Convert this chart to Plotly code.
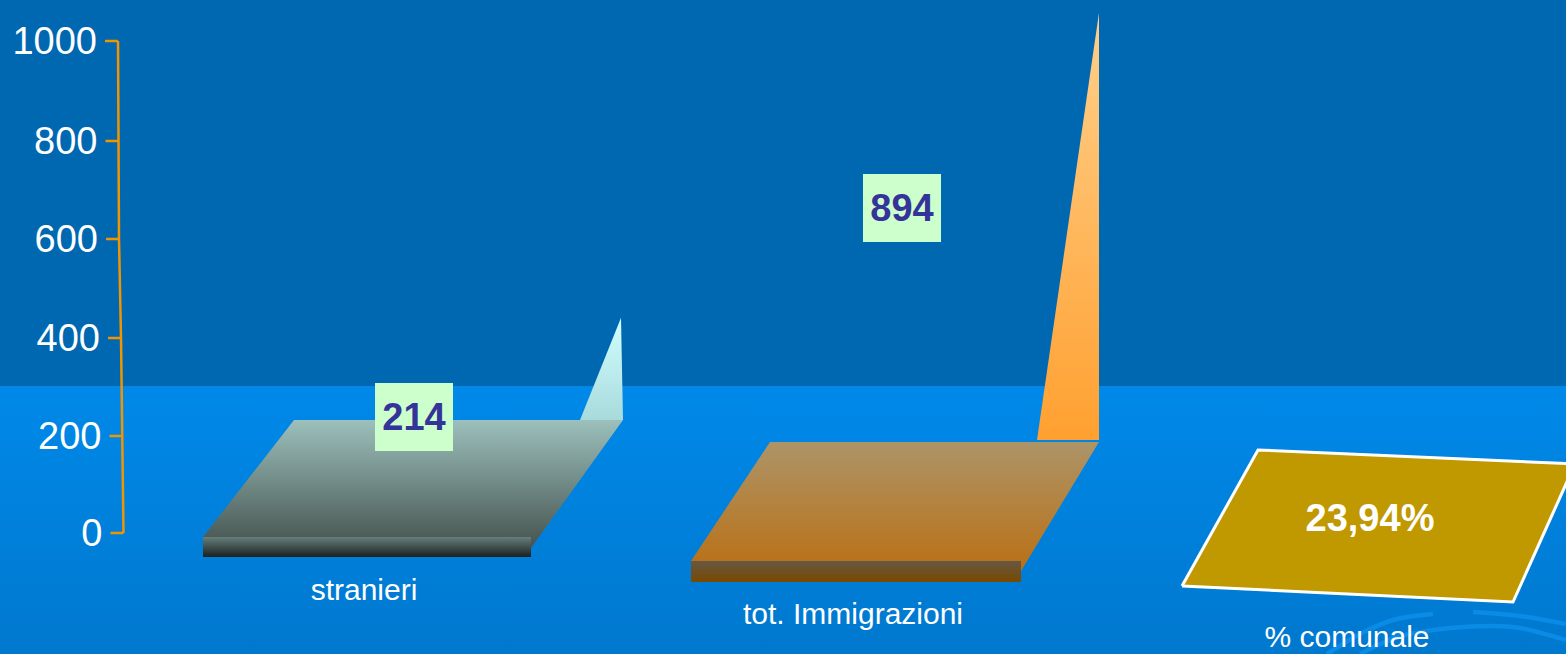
import plotly.graph_objects as go

# ---- data ----
categories = ["stranieri", "tot. Immigrazioni", "% comunale"]
values = [214, 894]
value_labels = ["214", "894"]
percent_label = "23,94%"
tick_values = [0, 200, 400, 600, 800, 1000]
tick_labels = ["0", "200", "400", "600", "800", "1000"]

W, H = 1566, 654
Y0_PX, PX_PER_UNIT = 533.0, 0.492       # value axis: value 0 and its scale
DEPTH_SCALE = 0.478                     # rear wall is slightly foreshortened


def yv(py):
    """page pixel row -> value on the y axis"""
    return (Y0_PX - py) / PX_PER_UNIT


def poly(pts, bottom=None, top=None, color=None, line=None, name=""):
    xs = [p[0] for p in pts] + [pts[0][0]]
    ys = [yv(p[1]) for p in pts] + [yv(pts[0][1])]
    kw = dict(x=xs, y=ys, fill="toself", hoverinfo="skip", showlegend=False, name=name)
    if line:
        kw.update(mode="lines", line=line)
    else:
        kw.update(mode="none")
    if color:
        kw["fillcolor"] = color
    else:
        kw["fillgradient"] = dict(type="vertical", colorscale=[[0, bottom], [1, top]])
    return go.Scatter(**kw)


def spike(x_left, x_tip, x_right, base_py, value, bottom, top):
    base = yv(base_py)
    tip = base + value * DEPTH_SCALE / PX_PER_UNIT
    return go.Scatter(
        x=[x_left, x_tip, x_right, x_left], y=[base, tip, base, base],
        mode="none", fill="toself", hoverinfo="skip", showlegend=False,
        fillgradient=dict(type="vertical", colorscale=[[0, bottom], [1, top]]),
    )


fig = go.Figure()

# backdrop
fig.add_trace(poly([(0, 0), (W, 0), (W, 386), (0, 386)], color="#0067B1"))
fig.add_trace(poly([(0, 386), (W, 386), (W, H), (0, H)], bottom="#0078CE", top="#0089E9"))

# swooshes in the backdrop
for pts in (
    [(1327, 654), (1360, 634), (1393, 620), (1433, 614)],
    [(1473, 612), (1520, 616), (1566, 624)],
    [(1360, 654), (1395, 638), (1433, 630), (1493, 626), (1520, 628), (1566, 640)],
):
    fig.add_trace(go.Scatter(
        x=[p[0] for p in pts], y=[yv(p[1]) for p in pts], mode="lines",
        line=dict(color="#0A8BE6", width=4.5, shape="spline"),
        hoverinfo="skip", showlegend=False))

# value axis
axis_x = [123.5, 122.5, 121, 119, 118.5, 118]
axis_py = [533, 436, 338, 239, 141, 41]
fig.add_trace(go.Scatter(
    x=axis_x, y=[yv(p) for p in axis_py], mode="lines",
    line=dict(color="#F09400", width=2.5), hoverinfo="skip", showlegend=False))
for ax, py in zip(axis_x, axis_py):
    fig.add_trace(go.Scatter(
        x=[ax - 13, ax], y=[yv(py), yv(py)], mode="lines",
        line=dict(color="#F09400", width=2.5), hoverinfo="skip", showlegend=False))
fig.add_trace(go.Scatter(
    x=[a - 21 for a in axis_x], y=[yv(p + 3) for p in axis_py], mode="text",
    text=tick_labels, textposition="middle left",
    textfont=dict(family="Liberation Sans", size=38, color="white"),
    hoverinfo="skip", showlegend=False))

# stranieri
fig.add_trace(spike(580, 621, 623, 420, values[0], "#A8DADC", "#D2FFFF"))
fig.add_trace(poly([(203, 537), (294, 420), (623, 420), (531, 548), (531, 537)],
                   bottom="#45534F", top="#9CC0BC"))
fig.add_trace(poly([(203, 537), (531, 537), (531, 557), (203, 557)],
                   bottom="#1A2020", top="#667E7A"))

# tot. Immigrazioni
fig.add_trace(spike(1037, 1099, 1099, 440, values[1], "#FFA030", "#FFD08C"))
fig.add_trace(poly([(691, 561), (770, 442), (1099, 442), (1021, 571), (1021, 561)],
                   bottom="#BA7014", top="#AD9468"))
fig.add_trace(poly([(691, 561), (1021, 561), (1021, 582), (691, 582)],
                   bottom="#7A4800", top="#665844"))

# % comunale
fig.add_trace(poly([(1182, 586), (1258, 450), (1575, 464), (1513, 602)],
                   color="#C09800", line=dict(color="white", width=3)))

# category labels
fig.add_trace(go.Scatter(
    x=[364, 853, 1347], y=[yv(592.5), yv(616.5), yv(639.5)], mode="text",
    text=categories, textposition="middle center",
    textfont=dict(family="Liberation Sans", size=30, color="white"),
    hoverinfo="skip", showlegend=False))

# percentage label
fig.add_trace(go.Scatter(
    x=[1370], y=[yv(521)], mode="text", text=[percent_label],
    textposition="middle center",
    textfont=dict(family="Liberation Sans", size=38, color="white", weight="bold"),
    hoverinfo="skip", showlegend=False))

annotations = [
    dict(x=x, y=yv(py), xref="x", yref="y", text=lab, showarrow=False,
         width=78, height=68, bgcolor="#CCFFCC", align="center", valign="middle",
         borderpad=0, borderwidth=0,
         font=dict(family="Liberation Sans", size=38, color="#333399", weight="bold"))
    for x, py, lab in zip([414, 902], [417, 208], value_labels)
]

fig.update_layout(
    width=W, height=H, margin=dict(l=0, r=0, t=0, b=0),
    paper_bgcolor="#0067B1", plot_bgcolor="#0067B1",
    showlegend=False, annotations=annotations,
    xaxis=dict(range=[0, W], visible=False, fixedrange=True),
    yaxis=dict(range=[yv(H), yv(0)], visible=False, fixedrange=True),
)

fig.write_html("out.html", config=dict(displayModeBar=False),
               post_script="document.body.style.margin='0';document.body.style.overflow='hidden';")
